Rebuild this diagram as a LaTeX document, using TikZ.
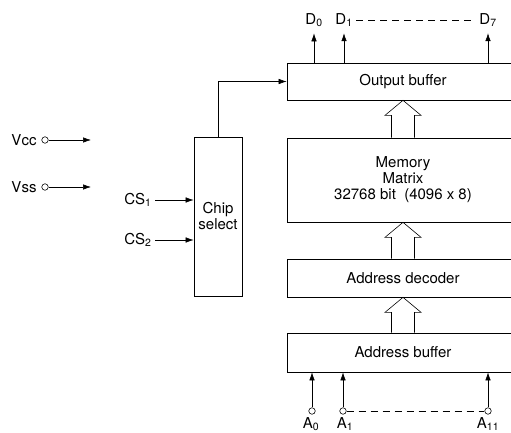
\documentclass[tikz,border=0pt]{standalone}
\usepackage{fontspec}
\setmainfont{TeX Gyre Heros}
\usetikzlibrary{positioning, arrows.meta, calc}

\tikzset{
  block/.style={draw, line width=0.7pt, minimum width=232pt, align=center},
  pin/.style={circle, draw, line width=0.6pt, minimum size=6.5pt, inner sep=0pt},
  sig/.style={-{Latex[length=8pt, width=5.5pt]}, line width=0.6pt},
  bus/.style={line width=0.6pt, dash pattern=on 7pt off 5pt},
}
\newcommand{\widearrow}[2]{%
  \draw[line width=0.6pt] ($(#1.north)+(-11.5,0)$) -- ($(#2.south)+(-11.5,15)$)
    -- ($(#2.south)+(-18,15)$) -- (#2.south) -- ($(#2.south)+(18,15)$)
    -- ($(#2.south)+(11.5,15)$) -- ($(#1.north)+(11.5,0)$);}

\begin{document}
\begin{tikzpicture}[x=1pt, y=-1pt, font=\fontsize{15}{16}\selectfont]
    \useasboundingbox (0,0) rectangle (511,433);
    \node[block, minimum height=37pt] (ob) at (403,81.5) {Output buffer};
    \node[block, minimum height=84pt] (mm) at (403,180) {Memory\\Matrix\\32768 bit~~(4096 x 8)};
    \node[block, minimum height=38pt] (ad) at (403,278) {Address decoder};
    \node[block, minimum height=39pt] (ab) at (403,352.5) {Address buffer};
    \node[draw, line width=0.7pt, minimum width=48pt, minimum height=159pt, align=center] (cs) at (218,216.5) {Chip\\select};

    \node (d0) at (314,20) {D\textsubscript{0}};
    \node (d1) at (344,20) {D\textsubscript{1}};
    \node (d7) at (488,20) {D\textsubscript{7}};
    \node[pin] (a0p) at (312,411) {};
    \node[pin] (a1p) at (343,411) {};
    \node[pin] (a11p) at (488,411) {};
    \node (a0) at (311,424) {A\textsubscript{0}};
    \node (a1) at (345,424) {A\textsubscript{1}};
    \node (a11) at (488,424) {A\textsubscript{11}};

    \node (vcc) at (24,140) {Vcc};
    \node[pin] (vccp) at (45,140) {};
    \coordinate (vcce) at (91,140);
    \node (vss) at (24,187) {Vss};
    \node[pin] (vssp) at (45,187) {};
    \coordinate (vsse) at (91,187);
    \node (cs1) at (138,200) {CS\textsubscript{1}};
    \node (cs2) at (138,240) {CS\textsubscript{2}};

    \widearrow{mm}{ob}
    \widearrow{ad}{mm}
    \widearrow{ab}{ad}

    \draw[sig, shorten >=3pt] (ob.north -| d0) -- (d0.south);
    \draw[sig, shorten >=3pt] (ob.north -| d1) -- (d1.south);
    \draw[sig, shorten >=3pt] (ob.north -| d7) -- (d7.south);
    \draw[bus] (d1) -- (d7);
    \draw[sig] (a0p) -- (ab.south -| a0p);
    \draw[sig] (a1p) -- (ab.south -| a1p);
    \draw[sig] (a11p) -- (ab.south -| a11p);
    \draw[bus] (a1p) -- (a11p);
    \draw[sig] (vccp) -- (vcce);
    \draw[sig] (vssp) -- (vsse);
    \draw[sig] (cs1) -- (cs1 -| cs.west);
    \draw[sig] (cs2) -- (cs2 -| cs.west);
    \draw[sig] (cs.north) |- (ob.west);
\end{tikzpicture}
\end{document}
